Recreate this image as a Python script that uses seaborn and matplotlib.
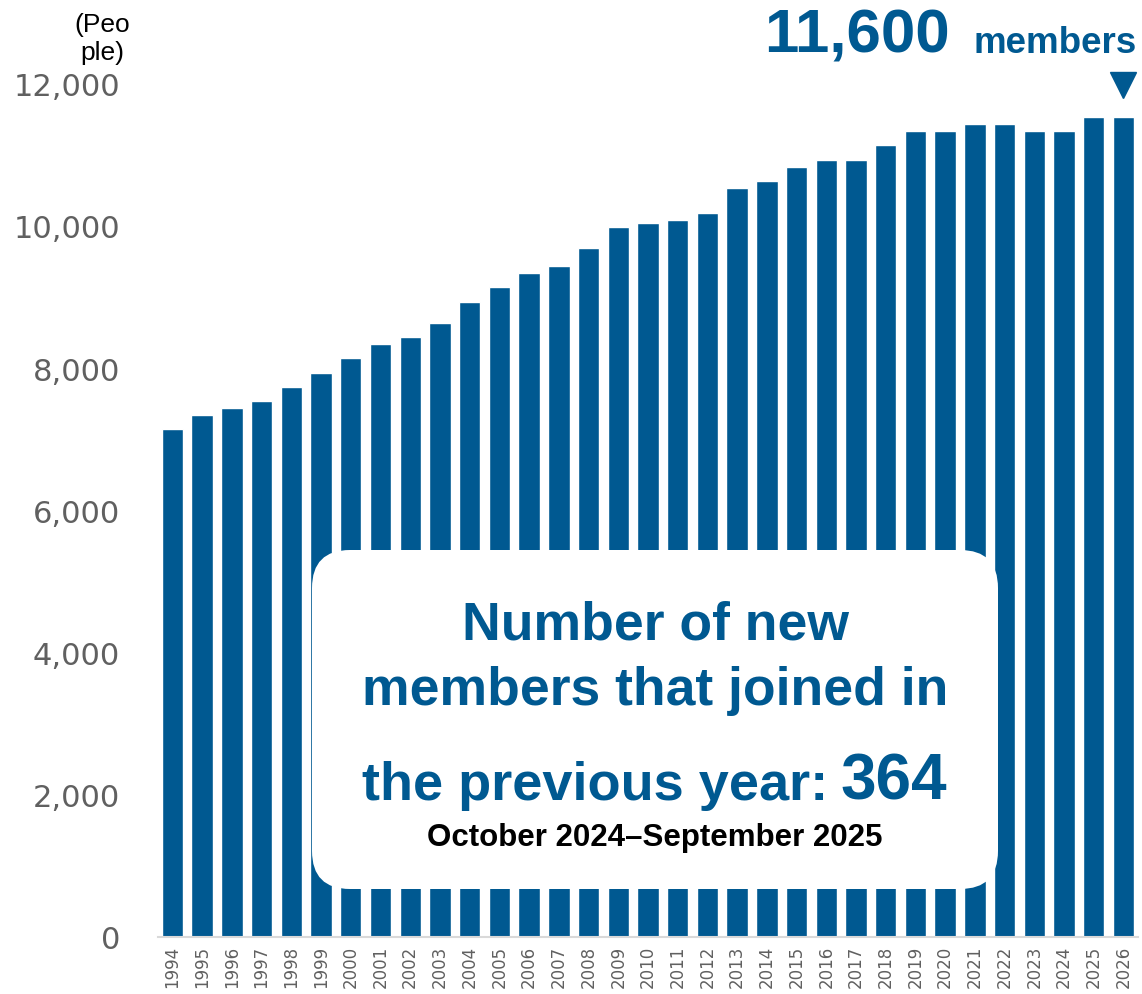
import pandas as pd
import seaborn as sns
import matplotlib.pyplot as plt
from matplotlib.patches import FancyBboxPatch
from matplotlib.transforms import IdentityTransform
from matplotlib.ticker import FuncFormatter

# Membership count by year
years = [str(y) for y in range(1994, 2027)]
members = [7150, 7350, 7450, 7550, 7750, 7950, 8150, 8350, 8450, 8650,
           8950, 9150, 9350, 9450, 9700, 10000, 10050, 10100, 10200, 10550,
           10650, 10850, 10950, 10950, 11150, 11350, 11350, 11450, 11450, 11350,
           11350, 11550, 11550]
y_ticks = [0, 2000, 4000, 6000, 8000, 10000, 12000]

df = pd.DataFrame({'Year': years, 'Members': members})

blue = '#005991'
grey = '#606060'

sns.set_style('white')
plt.rcParams['font.family'] = ['DejaVu Sans']

fig = plt.figure(figsize=(11.42, 9.94), dpi=100)
ax = fig.add_axes([0.138, 0.0573, 0.8588, 0.8572])

sns.barplot(data=df, x='Year', y='Members', color=blue, saturation=1,
            width=0.72, ax=ax)

ax.set_xlim(-0.5, len(years) - 0.5)
ax.set_ylim(0, 12000)
ax.set_yticks(y_ticks)
ax.yaxis.set_major_formatter(FuncFormatter(lambda v, p: f'{int(v):,}'))
ax.tick_params(axis='y', length=0, pad=27, labelsize=22, labelcolor=grey)
ax.tick_params(axis='x', length=0, pad=6, labelsize=12, labelcolor=grey,
               labelrotation=90)
ax.set_xlabel('')
ax.set_ylabel('')
for s in ['left', 'right', 'top']:
    ax.spines[s].set_visible(False)
ax.spines['bottom'].set_color('#d9d9d9')
ax.spines['bottom'].set_linewidth(1.5)

# unit label
fig.text(102 / 1142, 1 - 25 / 994, '(Peo', ha='center', va='center',
         fontsize=19, family='Liberation Sans', color='black')
fig.text(102 / 1142, 1 - 53 / 994, 'ple)', ha='center', va='center',
         fontsize=19, family='Liberation Sans', color='black')

# headline total
fig.text(950 / 1142, 1 - 53 / 994, '11,600', ha='right', va='baseline',
         fontsize=44.5, fontweight='bold', family='Liberation Sans', color=blue)
fig.text(973 / 1142, 1 - 53 / 994, 'members', ha='left', va='baseline',
         fontsize=26.5, fontweight='bold', family='Liberation Sans', color=blue)
ax.plot([len(years) - 1], [12000], marker='v', markersize=19, color=blue,
        clip_on=False, linestyle='none')

# white callout box over the bars
box = FancyBboxPatch((312, 994 - 889), 686, 339,
                     boxstyle='round,pad=0,rounding_size=38',
                     facecolor='white', edgecolor='none',
                     transform=IdentityTransform(), zorder=5)
fig.add_artist(box)

fig.text(655 / 1142, 1 - 640 / 994, 'Number of new', ha='center', va='baseline',
         fontsize=38.5, fontweight='bold', family='Liberation Sans', color=blue,
         zorder=6)
fig.text(655 / 1142, 1 - 705 / 994, 'members that joined in', ha='center',
         va='baseline', fontsize=38.5, fontweight='bold', family='Liberation Sans',
         color=blue, zorder=6)
fig.text(828 / 1142, 1 - 800 / 994, 'the previous year:', ha='right',
         va='baseline', fontsize=39, fontweight='bold', family='Liberation Sans',
         color=blue, zorder=6)
fig.text(840 / 1142, 1 - 800 / 994, '364', ha='left', va='baseline',
         fontsize=46, fontweight='bold', family='Liberation Sans', color=blue,
         zorder=6)
fig.text(655 / 1142, 1 - 846 / 994, 'October 2024\u2013September 2025',
         ha='center', va='baseline', fontsize=22.5, fontweight='bold',
         family='Liberation Sans', color='black', zorder=6)

fig.savefig('out.png', dpi=100)
